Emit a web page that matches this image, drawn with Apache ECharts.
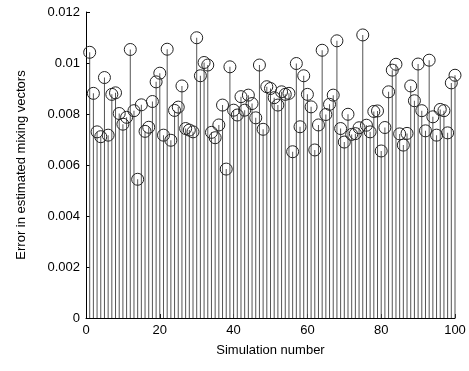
<!DOCTYPE html>
<html>
<head>
<meta charset="utf-8">
<script src="https://cdn.jsdelivr.net/npm/echarts@6/dist/echarts.min.js"></script>
<style>
  html, body { margin: 0; padding: 0; background: #fff; }
  #main { width: 469px; height: 371px; }
</style>
</head>
<body>
<div id="main"></div>
<script>
// error per simulation run
var errors = [
  0.01042, 0.00881, 0.0073, 0.00711, 0.00943, 0.00717, 0.00877, 0.00883, 0.00802, 0.0076,
  0.00787, 0.01053, 0.00813, 0.00544, 0.00836, 0.00732, 0.00748, 0.00849, 0.00926, 0.0096,
  0.00717, 0.01054, 0.00697, 0.00814, 0.00827, 0.0091, 0.00743, 0.00737, 0.0073, 0.01099,
  0.0095, 0.01002, 0.00992, 0.00728, 0.00707, 0.00757, 0.00835, 0.00584, 0.00985, 0.00815,
  0.00796, 0.00868, 0.00815, 0.00874, 0.00841, 0.00785, 0.00992, 0.0074, 0.00907, 0.009,
  0.00864, 0.00835, 0.00887, 0.00877, 0.00881, 0.00652, 0.00998, 0.0075, 0.0095, 0.00877,
  0.00828, 0.00659, 0.00757, 0.0105, 0.00798, 0.00838, 0.00874, 0.01087, 0.00743, 0.0069,
  0.00799, 0.0072, 0.00723, 0.00746, 0.0111, 0.00756, 0.0073, 0.0081, 0.00812, 0.00655,
  0.00747, 0.00887, 0.00972, 0.00995, 0.00722, 0.00678, 0.00724, 0.0091, 0.00852, 0.00996,
  0.00813, 0.00734, 0.01011, 0.00789, 0.00717, 0.00818, 0.00813, 0.00726, 0.00922, 0.00952
];
var xTicks = [0, 20, 40, 60, 80, 100];
var yTicks = [0, 0.002, 0.004, 0.006, 0.008, 0.01, 0.012];

var points = errors.map(function (v, i) { return [i + 1, v]; });

var font = 'Liberation Sans, Arial, sans-serif';
var myChart = echarts.init(document.getElementById('main'));
myChart.setOption({
  animation: false,
  grid: { left: 86, right: 14, top: 12, bottom: 53 },
  xAxis: {
    type: 'value',
    min: 0, max: 100, interval: xTicks[1] - xTicks[0],
    name: 'Simulation number',
    nameLocation: 'middle',
    nameGap: 26,
    nameTextStyle: { color: '#000', fontFamily: font, fontSize: 13 },
    axisLine: { lineStyle: { color: '#000', width: 1 } },
    axisTick: { inside: true, length: 4, lineStyle: { color: '#000' } },
    axisLabel: { color: '#000', fontFamily: font, fontSize: 13, margin: 6 },
    splitLine: { show: false }
  },
  yAxis: {
    type: 'value',
    min: 0, max: 0.012, interval: yTicks[1] - yTicks[0],
    name: 'Error in estimated mixing vectors',
    nameLocation: 'middle',
    nameGap: 58,
    nameTextStyle: { color: '#000', fontFamily: font, fontSize: 13 },
    axisLine: { show: true, lineStyle: { color: '#000', width: 1 } },
    axisTick: { show: true, inside: true, length: 4, lineStyle: { color: '#000' } },
    axisLabel: {
      color: '#000', fontFamily: font, fontSize: 13, margin: 6,
      formatter: function (v) { return String(parseFloat(v.toFixed(3))); }
    },
    splitLine: { show: false }
  },
  series: [
    {
      type: 'bar',
      data: points,
      barWidth: 1,
      itemStyle: { color: '#555' },
      z: 1
    },
    {
      type: 'scatter',
      data: points,
      symbol: 'circle',
      symbolSize: 12,
      itemStyle: { color: 'rgba(0,0,0,0)', borderColor: '#222', borderWidth: 1, opacity: 1 },
      emphasis: { disabled: true },
      z: 2
    }
  ]
});
</script>
</body>
</html>
